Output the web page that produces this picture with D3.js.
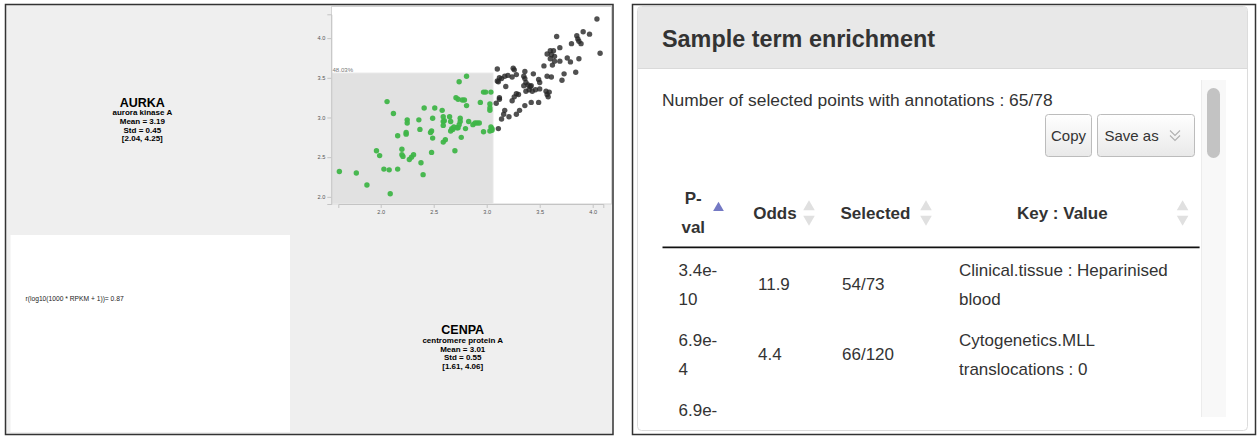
<!DOCTYPE html>
<html>
<head>
<meta charset="utf-8">
<script src="https://cdn.jsdelivr.net/npm/d3@7"></script>
<style>
  html, body { margin: 0; padding: 0; background: #fff; }
  svg { display: block; font-family: "Liberation Sans", Arial, Helvetica, sans-serif; }
</style>
</head>
<body>
<svg id="chart" width="1257" height="436"></svg>
<script>
// ---------------- data ----------------
// expression values, log10(1000 * RPKM + 1), one entry per sample
const cenpaExpr = [
  1.61,1.77,1.87,1.96,1.99,2.06,2.12,2.03,2.08,2.09,2.16,2.16,2.20,2.20,2.21,2.24,2.24,2.25,2.25,2.27,
  2.29,2.31,2.36,2.37,2.38,2.40,2.41,2.47,2.48,2.49,2.49,2.51,2.48,2.58,2.59,2.59,2.60,2.59,2.61,2.65,
  2.66,2.66,2.67,2.68,2.70,2.71,2.73,2.74,2.72,2.74,2.75,2.75,2.76,2.77,2.79,2.81,2.81,2.80,2.83,2.87,
  2.89,2.91,2.93,2.94,2.97,2.97,2.99,3.03,3.03,3.04,3.03,3.04,3.05,3.03,2.69,2.73,3.05,2.59,
  4.04,4.07,3.66,3.91,3.97,3.85,3.86,3.87,3.80,3.89,3.69,3.60,3.63,3.57,3.61,3.64,3.60,3.64,3.76,3.79,
  3.87,3.69,3.62,3.54,3.73,3.84,3.71,3.57,3.61,3.44,3.36,3.25,3.26,3.10,3.35,3.36,3.28,3.24,3.20,3.17,
  3.14,3.12,3.10,3.11,3.18,3.37,3.39,3.41,3.42,3.35,3.37,3.43,3.46,3.50,3.56,3.59,3.57,3.58,3.49,3.50,
  3.28,3.30,3.26,3.24,3.12,3.12,3.09,3.17,3.16,3.14,3.21,3.28,3.31,3.36,3.42,3.49,3.11,3.40
];
const aurkaExpr = [
  2.32,2.30,2.15,2.58,2.52,3.20,3.05,2.35,2.34,2.04,2.77,2.35,2.60,2.53,2.51,2.81,2.79,2.93,2.97,2.47,
  2.50,2.53,2.97,2.85,2.43,2.28,3.12,2.81,2.56,2.99,2.74,3.12,2.83,3.09,2.95,2.90,2.96,2.69,2.72,3.01,
  2.95,2.83,2.86,2.85,2.58,3.25,3.23,3.45,2.87,2.91,2.99,2.95,2.75,3.22,3.22,3.52,3.15,2.86,2.95,2.91,
  2.93,2.93,2.93,3.19,2.82,3.32,3.32,3.17,3.12,3.32,2.83,2.88,2.84,3.09,2.88,2.87,2.86,3.01,
  4.24,3.81,4.02,4.08,4.05,4.03,3.99,3.96,3.93,3.93,3.88,3.84,3.84,3.80,3.79,3.77,3.74,3.71,3.75,3.70,
  3.74,3.71,3.66,3.65,3.55,3.57,3.47,3.52,3.51,3.55,3.58,3.62,3.60,3.61,3.52,3.49,3.54,3.51,3.53,3.52,
  3.49,3.50,3.46,3.45,3.39,3.44,3.41,3.39,3.40,3.40,3.33,3.33,3.35,3.36,3.33,3.32,3.29,3.26,3.48,3.44,
  3.30,3.29,3.26,3.21,3.25,3.23,3.18,3.09,3.04,2.98,3.01,3.04,3.09,3.15,3.19,3.19,2.86,3.35
];

const geneSymbols = ["AURKA", "CENPA"];
const geneNames   = ["aurora kinase A", "centromere protein A"];
const geneMeans   = [3.19, 3.01];
const geneStds    = [0.45, 0.55];
const geneRanges  = [[2.04, 4.25], [1.61, 4.06]];
const correlation = 0.87;

// rectangular selection (CENPA range, AURKA range) and its share label
const selectionCenpa = [1.54, 3.06];
const selectionAurka = [1.91, 3.56];
const selectionShare = "48.03%";

const xTickValues = [2.0, 2.5, 3.0, 3.5, 4.0];
const yTickValues = [2.0, 2.5, 3.0, 3.5, 4.0];

// enrichment table
const annotatedCount = [65, 78];
const columnNames = ["P-val", "Odds", "Selected", "Key : Value"];
const pValues     = ["3.4e-10", "6.9e-4", "6.9e-4"];
const oddsRatios  = ["11.9", "4.4", ""];
const selectedOf  = ["54/73", "66/120", ""];
const keyValues   = ["Clinical.tissue : Heparinised blood", "Cytogenetics.MLL translocations : 0", ""];
const buttonLabels = ["Copy", "Save as"];

// ---------------- drawing ----------------
const svg = d3.select("#chart");
const defs = svg.append("defs");

// ===== left panel: gene pair matrix =====
const left = svg.append("g");
left.append("rect")
  .attr("x", 5.5).attr("y", 4.5).attr("width", 607.5).attr("height", 430)
  .attr("fill", "#efefef").attr("stroke", "#333").attr("stroke-width", 1.5);

// lower-left cell with the correlation
left.append("rect")
  .attr("x", 10.5).attr("y", 235).attr("width", 279.5).attr("height", 197)
  .attr("fill", "#fff");
left.append("text")
  .attr("x", 25.5).attr("y", 300.5)
  .attr("font-size", 6.7).attr("fill", "#222")
  .text(`r(log10(1000 * RPKM + 1))= ${correlation.toFixed(2)}`);

// diagonal cells: gene summaries
const diagCenters = [[142.3, 106.7], [462.7, 334.3]];
geneSymbols.forEach((sym, i) => {
  const g = left.append("g")
    .attr("transform", `translate(${diagCenters[i][0]},${diagCenters[i][1]})`)
    .attr("text-anchor", "middle").attr("font-weight", "bold").attr("fill", "#000");
  g.append("text").attr("font-size", 12.5).text(sym);
  const lines = [
    geneNames[i],
    `Mean = ${geneMeans[i].toFixed(2)}`,
    `Std = ${geneStds[i].toFixed(2)}`,
    `[${geneRanges[i][0].toFixed(2)}, ${geneRanges[i][1].toFixed(2)}]`
  ];
  const offsets = [8.4, 17.3, 26, 34.4];
  lines.forEach((t, j) => g.append("text").attr("y", offsets[j]).attr("font-size", 8).text(t));
});

// upper-right cell: scatter
const x = d3.scaleLinear().domain([1.6, 4.1]).range([338.3, 603.3]);
const y = d3.scaleLinear().domain([1.91, 4.30]).range([204, 14.3]);

const plot = left.append("g");
plot.append("rect")
  .attr("x", 331.5).attr("y", 6.5).attr("width", 280).attr("height", 197.5)
  .attr("fill", "#fff").attr("stroke", "#d4d4d4");

plot.append("rect")
  .attr("x", x(selectionCenpa[0])).attr("y", y(selectionAurka[1]))
  .attr("width", x(selectionCenpa[1]) - x(selectionCenpa[0]))
  .attr("height", y(selectionAurka[0]) - y(selectionAurka[1]))
  .attr("fill", "#e1e1e1").attr("stroke", "#e9e9e9");

plot.append("text")
  .attr("x", x(selectionCenpa[0]) + 0.5).attr("y", y(selectionAurka[1]) - 0.8)
  .attr("font-size", 6.1).attr("fill", "#777")
  .text(selectionShare);

const samples = d3.range(cenpaExpr.length).map(i => ({ c: cenpaExpr[i], a: aurkaExpr[i] }));
const inSelection = d =>
  d.c >= selectionCenpa[0] && d.c <= selectionCenpa[1] &&
  d.a >= selectionAurka[0] && d.a <= selectionAurka[1];

plot.append("g").selectAll("circle")
  .data(samples)
  .join("circle")
  .attr("cx", d => x(d.c))
  .attr("cy", d => y(d.a))
  .attr("r", 2.7)
  .attr("fill", d => inSelection(d) ? "#3fb548" : "#252525")
  .attr("fill-opacity", d => inSelection(d) ? 0.95 : 0.8);

const styleAxis = g => {
  g.select(".domain").attr("stroke", "#c4c4c4");
  g.selectAll(".tick line").attr("stroke", "#c4c4c4");
  g.selectAll(".tick text").attr("fill", "#555").attr("font-size", 5.6)
    .attr("font-family", '"Liberation Sans", Arial, sans-serif');
};
plot.append("g")
  .attr("transform", "translate(331.3,0)")
  .call(d3.axisLeft(y).tickValues(yTickValues).tickFormat(d3.format(".1f"))
        .tickSize(4).tickSizeOuter(4).tickPadding(2))
  .call(styleAxis);
plot.append("g")
  .attr("transform", "translate(0,204)")
  .call(d3.axisBottom(x).tickValues(xTickValues).tickFormat(d3.format(".1f"))
        .tickSize(4).tickSizeOuter(4).tickPadding(2.5))
  .call(styleAxis);

// ===== right panel: term enrichment table =====
const right = svg.append("g").attr("fill", "#333");
right.append("rect")
  .attr("x", 632.5).attr("y", 4.5).attr("width", 623).attr("height", 430)
  .attr("fill", "#fff").attr("stroke", "#333").attr("stroke-width", 1.5);

// card
right.append("rect")
  .attr("x", 637.5).attr("y", 6.5).attr("width", 610).attr("height", 424).attr("rx", 4)
  .attr("fill", "#fff").attr("stroke", "#dcdcdc");
right.append("path")
  .attr("d", "M638,68 V11 Q638,7 642,7 H1243 Q1247,7 1247,11 V68 Z")
  .attr("fill", "#e8e8e8");
right.append("line")
  .attr("x1", 638).attr("x2", 1247).attr("y1", 68.5).attr("y2", 68.5)
  .attr("stroke", "#dadada");

right.append("text")
  .attr("x", 662).attr("y", 46.5)
  .attr("font-size", 23.4).attr("font-weight", "bold")
  .text("Sample term enrichment");

right.append("text")
  .attr("x", 662).attr("y", 106)
  .attr("font-size", 17.4)
  .text(`Number of selected points with annotations : ${annotatedCount[0]}/${annotatedCount[1]}`);

// buttons
const grad = defs.append("linearGradient").attr("id", "btnGrad")
  .attr("x1", 0).attr("x2", 0).attr("y1", 0).attr("y2", 1);
grad.append("stop").attr("offset", "0%").attr("stop-color", "#ffffff");
grad.append("stop").attr("offset", "100%").attr("stop-color", "#e9e9e9");

const buttonBoxes = [[1045.5, 46], [1097.5, 97]];
buttonLabels.forEach((label, i) => {
  const [bx, bw] = buttonBoxes[i];
  right.append("rect")
    .attr("x", bx).attr("y", 114.5).attr("width", bw).attr("height", 42).attr("rx", 3)
    .attr("fill", "url(#btnGrad)").attr("stroke", "#bcbcbc");
  right.append("text")
    .attr("x", i === 0 ? bx + bw / 2 : bx + 7)
    .attr("y", 141)
    .attr("text-anchor", i === 0 ? "middle" : "start")
    .attr("font-size", 15)
    .text(label);
});
// double chevron on the "Save as" menu button
[130.5, 135.5].forEach(cy => {
  right.append("path")
    .attr("d", `M1170,${cy} L1175,${cy + 5} L1180,${cy}`)
    .attr("fill", "none").attr("stroke", "#b0b0b0").attr("stroke-width", 1.1);
});

// scrollbar
right.append("rect")
  .attr("x", 1201).attr("y", 80).attr("width", 25).attr("height", 337)
  .attr("fill", "#f8f8f8");
right.append("line")
  .attr("x1", 1201.5).attr("x2", 1201.5).attr("y1", 80).attr("y2", 417)
  .attr("stroke", "#ececec");
right.append("rect")
  .attr("x", 1207).attr("y", 88).attr("width", 13).attr("height", 70).attr("rx", 6.5)
  .attr("fill", "#c3c3c3");

// table (scrolled region, clipped at the bottom of the scroll box)
const clipBottom = 417;
defs.append("clipPath").attr("id", "tableClip")
  .append("rect").attr("x", 638).attr("y", 160).attr("width", 563).attr("height", clipBottom - 160);

const table = right.append("g").attr("clip-path", "url(#tableClip)");

const measurer = svg.append("text").attr("visibility", "hidden");
function textWidth(str, size, weight) {
  measurer.attr("font-size", size).attr("font-weight", weight).text(str);
  return measurer.node().getComputedTextLength();
}
// greedy wrapping, breaking at spaces and after hyphens
function wrap(str, maxW, size, weight) {
  const tokens = str.match(/[^\s-]+-?|\s+/g) || [];
  const lines = [];
  let cur = "";
  tokens.forEach(tok => {
    const trial = cur + tok;
    if (cur.trim() && textWidth(trial.trimEnd(), size, weight) > maxW) {
      lines.push(cur.trimEnd());
      cur = tok.trimStart();
    } else {
      cur = trial;
    }
  });
  if (cur.trim()) lines.push(cur.trimEnd());
  return lines;
}

const colX0 = [662.5, 742, 826, 943];
const colX1 = [742, 826, 943, 1199.6];
const headerWrap = [30, 60, 90, 200];
const bodyWrap = [44, 60, 90, 236];
const lineH = 29;
const fs = 17;

// header
const headerCenterY = 212.5;
columnNames.forEach((name, i) => {
  const lines = wrap(name, headerWrap[i], fs, "bold");
  const cx = colX0[i] + 16 + (colX1[i] - colX0[i] - 50) / 2;
  lines.forEach((ln, j) => {
    table.append("text")
      .attr("x", cx)
      .attr("y", headerCenterY + (j - (lines.length - 1) / 2) * lineH + 6)
      .attr("text-anchor", "middle").attr("font-size", fs).attr("font-weight", "bold")
      .text(ln);
  });
  const ix = i === 0 ? 718.5 : colX1[i] - 17;
  if (i === 0) {
    table.append("path")
      .attr("d", d3.symbol(d3.symbolTriangle, 50)())
      .attr("transform", `translate(${ix},208)`)
      .attr("fill", "#7479c4");
  } else {
    table.append("path")
      .attr("d", d3.symbol(d3.symbolTriangle, 58)())
      .attr("transform", `translate(${ix},207)`)
      .attr("fill", "#e0e0e0");
    table.append("path")
      .attr("d", d3.symbol(d3.symbolTriangle, 58)())
      .attr("transform", `translate(${ix},219) rotate(180)`)
      .attr("fill", "#e0e0e0");
  }
});
table.append("line")
  .attr("x1", colX0[0]).attr("x2", colX1[3]).attr("y1", 247.3).attr("y2", 247.3)
  .attr("stroke", "#111").attr("stroke-width", 1.8);

// body rows; lines that fall entirely below the scroll box are not drawn
const rows = d3.range(pValues.length).map(i => [pValues[i], oddsRatios[i], selectedOf[i], keyValues[i]]);
const rowScale = d3.scaleBand().domain(d3.range(rows.length)).range([249, 249 + 70 * rows.length]);
rows.forEach((cells, r) => {
  const cy = rowScale(r) + rowScale.bandwidth() / 2;
  cells.forEach((val, c) => {
    if (!val) return;
    const lines = wrap(val, bodyWrap[c], fs, "normal");
    lines.forEach((ln, j) => {
      const by = cy + (j - (lines.length - 1) / 2) * lineH + 6;
      if (by - fs * 0.75 > clipBottom) return;
      table.append("text")
        .attr("x", colX0[c] + 16)
        .attr("y", by)
        .attr("font-size", fs)
        .text(ln);
    });
  });
});
measurer.remove();
</script>
</body>
</html>
